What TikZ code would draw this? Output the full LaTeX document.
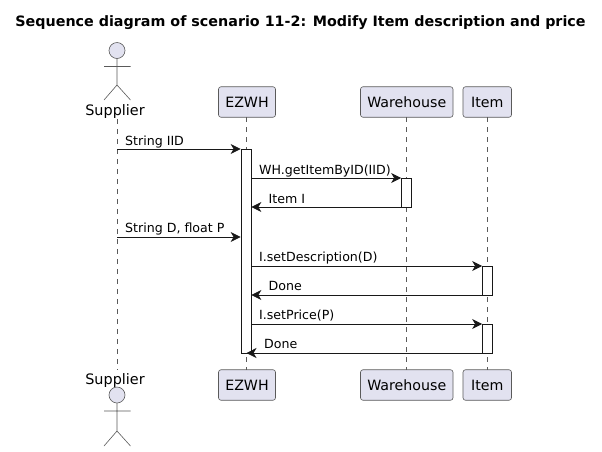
\documentclass[tikz,border=0pt]{standalone}
\usepackage{fontspec}
\setmainfont{DejaVu Sans}
\usetikzlibrary{arrows.meta}
\definecolor{pfill}{HTML}{E2E2F0}
\definecolor{pline}{HTML}{5A5A5A}
\definecolor{ink}{HTML}{181818}
\tikzset{
 part/.style={draw=pline,fill=pfill,rounded corners=2.5pt,line width=0.6pt,minimum height=30.5pt,inner sep=0pt,text depth=0pt,font=\fontsize{14.2}{16}\selectfont,text=black},
 life/.style={draw=pline,line width=0.5pt,dash pattern=on 5pt off 5pt},
 act/.style={draw=ink,fill=white,line width=0.75pt},
 msg/.style={draw=ink,line width=0.75pt,-{Stealth[length=10pt,width=10pt,inset=3pt,fill=ink]}},
 lab/.style={anchor=base west,inner sep=0pt,font=\fontsize{12.6}{15}\selectfont,text=black},
 actorname/.style={inner sep=0pt,font=\fontsize{14.4}{16}\selectfont,text=black},
 actorline/.style={draw=pline,line width=0.6pt},
 titletext/.style={inner sep=0pt,font=\fontsize{14.3}{16}\selectfont\bfseries,text=black}
}
\begin{document}
\begin{tikzpicture}[x=1pt,y=-1pt]
\useasboundingbox[fill=white] (0,0) rectangle (602,451);
\node[titletext] (title) at (300.5,23) {Sequence diagram of scenario 11-2: Modify Item description and price};
% participants
\node[part,minimum width=57pt] (ezt) at (247,102) {EZWH};
\node[part,minimum width=92.5pt] (wht) at (406.75,102) {Warehouse};
\node[part,minimum width=48.5pt] (itt) at (487.25,102) {Item};
\node[part,minimum width=57pt] (ezb) at (247,385) {EZWH};
\node[part,minimum width=92.5pt] (whb) at (406.75,385) {Warehouse};
\node[part,minimum width=48.5pt] (itb) at (487.25,385) {Item};
\node[actorname] (sut) at (115,111.5) {Supplier};
\node[actorname] (sub) at (115,380.5) {Supplier};
% lifelines
\draw[life] (117,119) -- (117,370);
\draw[life] (246.5,117) -- (246.5,370);
\draw[life] (406.5,117) -- (406.5,370);
\draw[life] (487.5,117) -- (487.5,370);
% actors
\draw[actorline,fill=pfill] (117,50.5) circle (8pt);
\draw[actorline] (117,58.5) -- (117,85) (104,66.5) -- (130.5,66.5) (104,100) -- (117,85) -- (130.5,100);
\draw[actorline,fill=pfill] (117,395) circle (8pt);
\draw[actorline] (117,403) -- (117,431) (104,411) -- (130.5,411) (104,446) -- (117,431) -- (130.5,446);
% activations
\node[act,minimum width=10pt,minimum height=204pt,inner sep=0pt] (a1) at (246,251) {};
\node[act,minimum width=10pt,minimum height=29pt,inner sep=0pt] (a2) at (406.5,192.5) {};
\node[act,minimum width=10pt,minimum height=29pt,inner sep=0pt] (a3) at (487.5,280.5) {};
\node[act,minimum width=10pt,minimum height=29pt,inner sep=0pt] (a4) at (487.5,338.5) {};
% messages
\draw[msg] (117,149) -- (a1.west |- 0,149);
\node[lab] (m1) at (125,145) {String IID};
\draw[msg] (a1.east |- 0,178) -- (a2.west |- 0,178);
\node[lab] (m2) at (259,174) {WH.getItemByID(IID)};
\draw[msg] (a2.west |- 0,207) -- (a1.east |- 0,207);
\node[lab] (m3) at (268.5,203) {Item I};
\draw[msg] (117,237) -- (a1.west |- 0,237);
\node[lab] (m4) at (125,232) {String D, float P};
\draw[msg] (a1.east |- 0,266) -- (a3.west |- 0,266);
\node[lab] (m5) at (259,261) {I.setDescription(D)};
\draw[msg] (a3.west |- 0,295) -- (a1.east |- 0,295);
\node[lab] (m6) at (268.5,290) {Done};
\draw[msg] (a1.east |- 0,324) -- (a4.west |- 0,324);
\node[lab] (m7) at (259,319) {I.setPrice(P)};
\draw[msg] (a4.west |- 0,353) -- (246.5,353);
\node[lab] (m8) at (264,348) {Done};
\end{tikzpicture}
\end{document}
